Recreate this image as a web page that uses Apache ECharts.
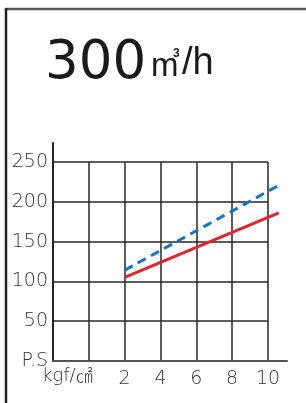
<!DOCTYPE html>
<html>
<head>
<meta charset="utf-8">
<script src="https://cdn.jsdelivr.net/npm/echarts@6/dist/echarts.min.js"></script>
<style>
html, body { margin: 0; padding: 0; background: #fff; }
#main { width: 306px; height: 403px; }
</style>
</head>
<body>
<div id="main"></div>
<script>
// pressure (kgf/cm2) on x, power (P.S) on y
var xTicks = [-2, 0, 2, 4, 6, 8, 10];
var yTicks = [0, 50, 100, 150, 200, 250];
var redLine = [[2, 105], [10.6, 186]];
var blueLine = [[2, 114], [10.8, 223]];
var titleMain = '300';
var titleUnit = 'm';
var titleSup = '3';
var titleTail = '/h';
var xUnit = 'kgf/';
var xUnitCm = '㎠';
var yUnit = 'P.S';

var myChart = echarts.init(document.getElementById('main'));
var labelFont = 'DejaVu Sans';
var titleFont = 'Liberation Sans';

var option = {
    animation: false,
    grid: [
        // inner grid with the cells
        { left: 53, right: 38, top: 162, bottom: 42 },
        // outer grid: longer axis lines, and the two curves (they run past 10)
        { left: 53, right: 19, top: 143, bottom: 42 }
    ],
    xAxis: [
        {
            type: 'value', gridIndex: 0,
            min: xTicks[0], max: xTicks[xTicks.length - 1], interval: 2,
            axisLine: { show: false },
            axisTick: { show: false },
            splitLine: { show: true, lineStyle: { color: '#262626', width: 1.5 } },
            axisLabel: {
                margin: 9,
                fontFamily: labelFont, fontWeight: 200, fontSize: 19, color: '#333',
                formatter: function (v) { return v <= 0 ? '' : String(v); }
            }
        },
        {
            type: 'value', gridIndex: 1,
            min: -2, max: 11.06,
            axisLine: { show: true, onZero: false, lineStyle: { color: '#555', width: 2 } },
            axisTick: { show: false },
            splitLine: { show: false },
            axisLabel: { show: false }
        }
    ],
    yAxis: [
        {
            type: 'value', gridIndex: 0,
            min: yTicks[0], max: yTicks[yTicks.length - 1], interval: 50,
            axisLine: { show: false },
            axisTick: { show: false },
            splitLine: { show: true, lineStyle: { color: '#262626', width: 1.5 } },
            axisLabel: {
                margin: 5,
                fontFamily: labelFont, fontWeight: 200, fontSize: 19, color: '#333',
                formatter: function (v) { return v === 0 ? yUnit : String(v); }
            }
        },
        {
            type: 'value', gridIndex: 1,
            min: 0, max: 273.75,
            axisLine: { show: true, onZero: false, lineStyle: { color: '#222', width: 2 } },
            axisTick: { show: false },
            splitLine: { show: false },
            axisLabel: { show: false }
        }
    ],
    graphic: [
        // frame
        { type: 'line', shape: { x1: 5, y1: 9, x2: 306, y2: 9 }, style: { stroke: '#555', lineWidth: 2.5 } },
        { type: 'line', shape: { x1: 6, y1: 8, x2: 6, y2: 403 }, style: { stroke: '#222', lineWidth: 2.5 } },
        {
            type: 'text', left: 42, top: 367,
            style: {
                text: xUnit + '{c|' + xUnitCm + '}',
                fontFamily: labelFont, fontWeight: 200, fontSize: 18, fill: '#333',
                rich: { c: { fontFamily: 'Noto Sans CJK JP', fontWeight: 300, fontSize: 17, fill: '#333' } }
            }
        },
        // title 300m3/h
        {
            type: 'text', left: 45, top: 38,
            style: { text: titleMain, fontFamily: 'DejaVu Sans', fontSize: 53, fill: '#1a1a1a' }
        },
        {
            type: 'text', left: 151, top: 50,
            style: { text: titleUnit, fontFamily: titleFont, fontSize: 33, fill: '#1a1a1a' }
        },
        {
            type: 'text', left: 173, top: 48,
            style: { text: titleSup, fontFamily: titleFont, fontSize: 12, fontWeight: 'bold', fill: '#1a1a1a' }
        },
        {
            type: 'text', left: 182, top: 45,
            style: { text: titleTail, fontFamily: titleFont, fontSize: 38, fill: '#1a1a1a' }
        }
    ],
    series: [
        {
            name: 'red', type: 'line', xAxisIndex: 1, yAxisIndex: 1,
            data: redLine, symbol: 'none',
            lineStyle: { color: '#e0252c', width: 3 }
        },
        {
            name: 'blue', type: 'line', xAxisIndex: 1, yAxisIndex: 1,
            data: blueLine, symbol: 'none',
            lineStyle: { color: '#1373c1', width: 3, type: [9, 6] }
        }
    ]
};

myChart.setOption(option);
</script>
</body>
</html>
